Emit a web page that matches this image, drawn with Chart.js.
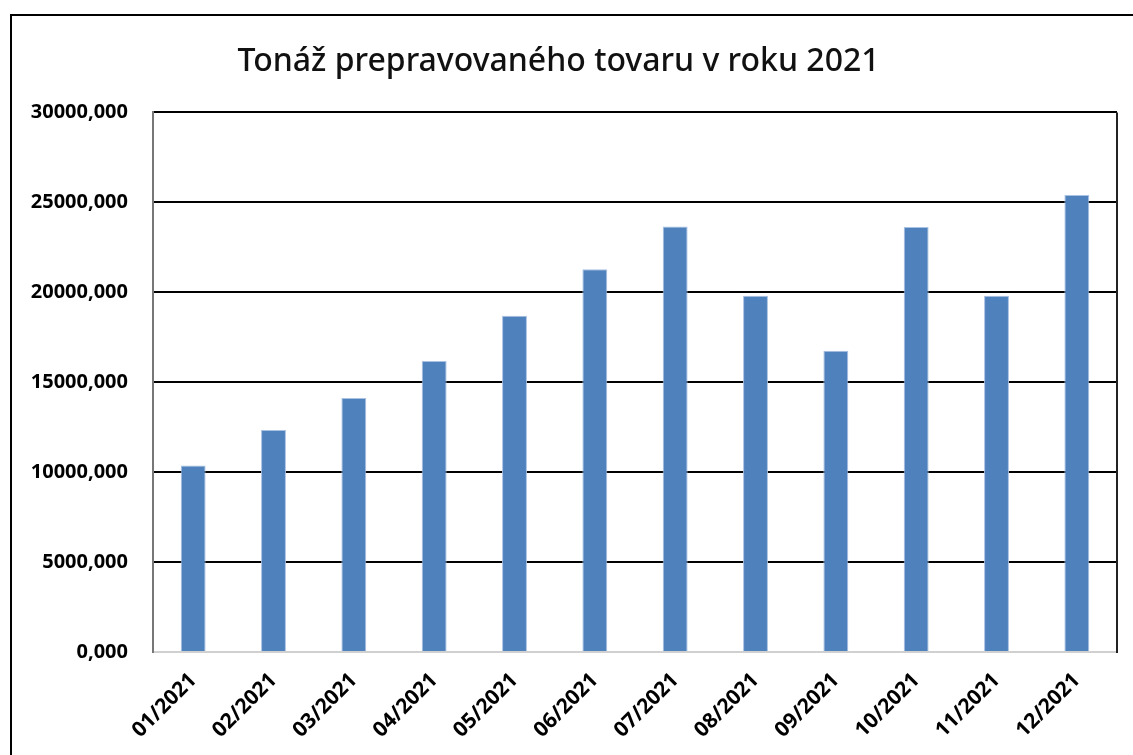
<!DOCTYPE html>
<html>
<head>
<meta charset="utf-8">
<script src="https://cdn.jsdelivr.net/npm/chart.js@4"></script>
<style>
  html, body { margin: 0; padding: 0; background: #fff; overflow: hidden; }
  #frame { position: absolute; left: 10px; top: 14px; width: 1200px; height: 800px;
           border-left: 2px solid #000; border-top: 2px solid #000; }
  #wrap { position: absolute; left: 0; top: 0; width: 1133px; height: 755px; }
</style>
</head>
<body>
<div id="frame"></div>
<div id="wrap"><canvas id="chartTonaz"></canvas></div>
<script>
const months = ["01/2021", "02/2021", "03/2021", "04/2021", "05/2021", "06/2021",
                "07/2021", "08/2021", "09/2021", "10/2021", "11/2021", "12/2021"];
const tonnage = [10370, 12340, 14120, 16180, 18700, 21280, 23650, 19810, 16750, 23630, 19810, 25410];
const yMin = 0;
const yMax = 30000;
const yStep = 5000;

const ctx = document.getElementById("chartTonaz");

// right edge of the plot area
const plotEdge = {
    id: "plotEdge",
    afterDraw(chart) {
        const a = chart.chartArea;
        const c = chart.ctx;
        c.save();
        c.strokeStyle = "#222";
        c.lineWidth = 2;
        c.beginPath();
        c.moveTo(a.right, a.top);
        c.lineTo(a.right, a.bottom + 1);
        c.stroke();
        c.restore();
    },
};

new Chart(ctx, {
    type: "bar",
    data: {
        labels: months,
        datasets: [
            {
                label: "Tonáž",
                data: tonnage,
                backgroundColor: "#4F81BD",
                borderColor: "#A9C1E2",
                borderWidth: 1,
                barPercentage: 0.31,
                categoryPercentage: 1,
            },
        ],
    },
    options: {
        responsive: true,
        maintainAspectRatio: false,
        animation: false,
        layout: { padding: { left: 0, right: 16, top: 0, bottom: 0 } },
        plugins: {
            legend: { display: false },
            tooltip: { enabled: false },
            title: {
                display: true,
                text: "Tonáž prepravovaného tovaru v roku 2021",
                color: "#111",
                font: { family: "'Noto Sans'", size: 32, weight: "500" },
                padding: { top: 43, bottom: 31 },
            },
        },
        scales: {
            x: {
                grid: { display: false },
                border: { color: "#d0d0d0", width: 2 },
                ticks: {
                    color: "#000",
                    minRotation: 45,
                    maxRotation: 45,
                    padding: 8,
                    font: { family: "'Noto Sans'", size: 21, weight: "bold" },
                },
                afterFit(scale) { scale.height = 103; },
            },
            y: {
                min: yMin,
                max: yMax,
                grid: {
                    color: (c) => (c.tick && c.tick.value === 0 ? "#d0d0d0" : "#000"),
                    lineWidth: 2,
                    drawTicks: false,
                },
                border: { color: "#777", width: 2 },
                ticks: {
                    stepSize: yStep,
                    color: "#000",
                    padding: 25,
                    font: { family: "'Noto Sans'", size: 20, weight: "bold" },
                    callback: (v) => v.toFixed(3).replace(".", ","),
                },
                afterFit(scale) { scale.width = 153; },
            },
        },
    },
    plugins: [plotEdge],
});
</script>
</body>
</html>
